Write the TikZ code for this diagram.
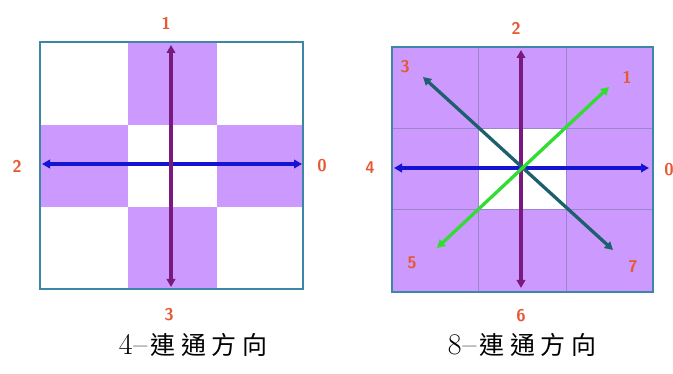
\documentclass[tikz,border=0pt]{standalone}
\usepackage{fontspec}
\newfontfamily\cjkfont[LetterSpace=22]{Noto Sans CJK TC}
\usetikzlibrary{arrows.meta}
\definecolor{cellpurple}{HTML}{CC99FF}
\definecolor{gridteal}{HTML}{3D86A6}
\definecolor{gridline}{HTML}{9A86D0}
\definecolor{labelred}{HTML}{E55A34}
\definecolor{vertpurple}{HTML}{7A1A7E}
\definecolor{horizblue}{HTML}{1414D2}
\definecolor{diagteal}{HTML}{1E5F6E}
\definecolor{diaggreen}{HTML}{30DD30}
\tikzset{
  dirlabel/.style={text=labelred, font=\sffamily\bfseries\fontsize{17}{17}\selectfont, inner sep=0pt},
  dirarrow/.style={line width=3.3pt, {Triangle[length=8pt,width=8.5pt]}-{Triangle[length=8pt,width=8.5pt]}},
  caption/.style={font=\fontsize{30}{30}\selectfont, inner sep=0pt}
}

\begin{document}
\begin{tikzpicture}[x=1pt, y=-1pt]
  \useasboundingbox (0,0) rectangle (673,374);

  % 4-connected neighbourhood
  \fill[cellpurple] (128,42) rectangle (217,125);
  \fill[cellpurple] (40,125) rectangle (128,207);
  \fill[cellpurple] (217,125) rectangle (303,207);
  \fill[cellpurple] (128,207) rectangle (217,289);
  \draw[gridteal, line width=2pt] (40,42) rectangle (303,289);

  \coordinate (a0) at (302,164);
  \coordinate (a2) at (42,164);
  \coordinate (a1) at (171,45);
  \coordinate (a3) at (171,287);
  \draw[dirarrow, horizblue] (a2) -- (a0);
  \draw[dirarrow, vertpurple] (a3) -- (a1);

  \node[dirlabel] (la0) at (322,166) {0};
  \node[dirlabel] (la1) at (166,23) {1};
  \node[dirlabel] (la2) at (17,166) {2};
  \node[dirlabel] (la3) at (169,315) {3};

  % 8-connected neighbourhood
  \fill[cellpurple] (392,47) rectangle (653,292);
  \fill[white] (478,128) rectangle (566,209);
  \foreach \gx in {478,566} \draw[gridline, line width=0.8pt] (\gx,47) -- (\gx,292);
  \foreach \gy in {128,209} \draw[gridline, line width=0.8pt] (392,\gy) -- (653,\gy);
  \draw[gridteal, line width=2pt] (392,47) rectangle (653,292);

  \coordinate (b0) at (649,168);
  \coordinate (b4) at (394,168);
  \coordinate (b2) at (521,50);
  \coordinate (b6) at (521,288);
  \coordinate (b3) at (423,77);
  \coordinate (b7) at (613,250);
  \coordinate (b1) at (609,87);
  \coordinate (b5) at (437,248);
  \draw[dirarrow, horizblue] (b4) -- (b0);
  \draw[dirarrow, vertpurple] (b6) -- (b2);
  \draw[dirarrow, diagteal] (b3) -- (b7);
  \draw[dirarrow, diaggreen] (b5) -- (b1);

  \node[dirlabel] (lb0) at (669,170) {0};
  \node[dirlabel] (lb1) at (627,77) {1};
  \node[dirlabel] (lb2) at (516,28) {2};
  \node[dirlabel] (lb3) at (405,67) {3};
  \node[dirlabel] (lb4) at (370,168) {4};
  \node[dirlabel] (lb5) at (412,263) {5};
  \node[dirlabel] (lb6) at (521,316) {6};
  \node[dirlabel] (lb7) at (633,267) {7};

  \node[caption] (cap4) at (193,345) {4\kern1pt--\kern3pt{\cjkfont\fontsize{25}{25}\selectfont 連通方向}};
  \node[caption] (cap8) at (522,345) {8\kern1pt--\kern3pt{\cjkfont\fontsize{25}{25}\selectfont 連通方向}};
\end{tikzpicture}
\end{document}
